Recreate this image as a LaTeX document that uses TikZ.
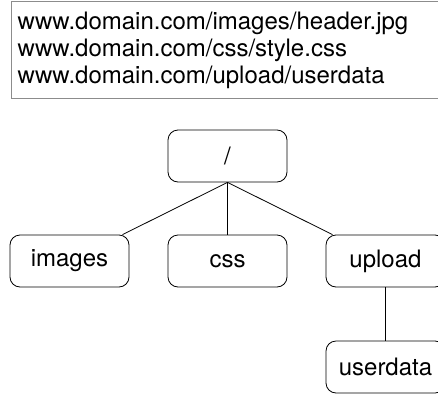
\documentclass[tikz,border=0pt]{standalone}
\usepackage{fontspec}
\setmainfont{TeX Gyre Heros}
\usetikzlibrary{positioning}

\tikzset{
  folder/.style={draw, line width=0.8pt, rounded corners=10pt,
    minimum width=119pt, minimum height=52pt, inner sep=0pt,
    font=\fontsize{24}{26.5}\selectfont},
  urlline/.style={anchor=base west, inner sep=0pt,
    font=\fontsize{24}{26.5}\selectfont},
  branch/.style={line width=0.8pt}
}

\begin{document}
\begin{tikzpicture}[x=1pt,y=-1pt]
  \clip (0,0) rectangle (438,396);

  % the three addresses
  \draw[black!45, line width=1pt] (11,2) rectangle (450,98);
  \node[urlline] (url1) at (17.5,30) {www.domain.com/images/header.jpg};
  \node[urlline] (url2) at (17.5,56.5) {www.domain.com/css/style.css};
  \node[urlline] (url3) at (17.5,83) {www.domain.com/upload/userdata};

  % Folder tree
  \node[folder] (root) at (227.5,156) {/};
  \node[folder] (images) at (69.5,261) {images};
  \node[folder] (css) at (227.5,261) {css};
  \node[folder] (upload) at (385.5,261) {upload};
  \node[folder] (userdata) at (385.5,367) {userdata};

  \draw[branch] (root.south) -- (images);
  \draw[branch] (root.south) -- (css);
  \draw[branch] (root.south) -- (upload);
  \draw[branch] (upload) -- (userdata);
\end{tikzpicture}
\end{document}
